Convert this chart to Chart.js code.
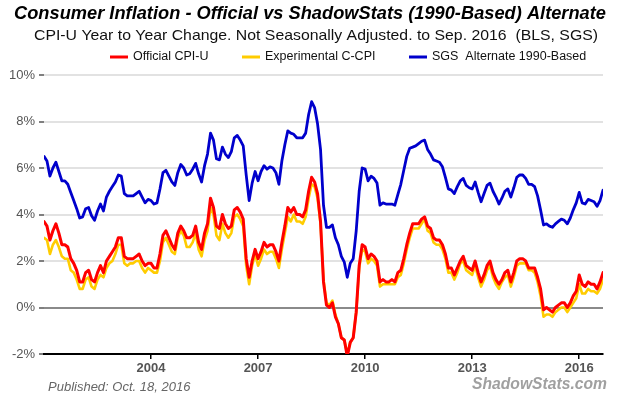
<!DOCTYPE html>
<html><head><meta charset="utf-8">
<script src="https://cdn.jsdelivr.net/npm/chart.js@4.4.0/dist/chart.umd.min.js"></script>
<style>html,body{margin:0;padding:0;background:#fff;}#wrap{width:620px;height:397px;position:relative;}</style>
</head><body><div id="wrap"><canvas id="c" width="620" height="397"></canvas></div>
<script>
// Monthly year-to-year change, Jan 2001 .. Sep 2016
const startYear = 2001;
const officialCPI = [
 3.7,3.5,2.9,3.3,3.6,3.2,2.7,2.7,2.6,2.1,1.9,1.6,
 1.1,1.1,1.5,1.6,1.2,1.1,1.5,1.8,1.5,2.0,2.2,2.4,
 2.6,3.0,3.0,2.2,2.1,2.1,2.1,2.2,2.3,2.0,1.8,1.9,
 1.9,1.7,1.7,2.3,3.1,3.3,3.0,2.7,2.5,3.2,3.5,3.3,
 3.0,3.0,3.1,3.5,2.8,2.5,3.2,3.6,4.7,4.3,3.5,3.4,
 4.0,3.6,3.4,3.5,4.2,4.3,4.1,3.8,2.1,1.3,2.0,2.5,
 2.1,2.4,2.8,2.6,2.7,2.7,2.4,2.0,2.8,3.5,4.3,4.1,
 4.3,4.0,4.0,3.9,4.2,5.0,5.6,5.4,4.9,3.7,1.1,0.1,
 0.0,0.2,-0.4,-0.7,-1.3,-1.4,-2.1,-1.5,-1.3,-0.2,1.8,2.7,
 2.6,2.1,2.3,2.2,2.0,1.1,1.2,1.1,1.1,1.2,1.1,1.5,
 1.6,2.1,2.7,3.2,3.6,3.6,3.6,3.8,3.9,3.5,3.4,3.0,
 2.9,2.9,2.7,2.3,1.7,1.7,1.4,1.7,2.0,2.2,1.8,1.7,
 1.6,2.0,1.5,1.1,1.4,1.8,2.0,1.5,1.2,1.0,1.2,1.5,
 1.6,1.1,1.5,2.0,2.1,2.1,2.0,1.7,1.7,1.7,1.3,0.8,
 -0.1,0.0,-0.1,-0.2,0.0,0.1,0.2,0.2,0.0,0.2,0.5,0.7,
 1.4,1.0,0.9,1.1,1.0,1.0,0.8,1.1,1.5
];
const chainedCPI = [
 3.0,2.9,2.3,2.7,2.9,2.6,2.2,2.1,2.1,1.6,1.5,1.2,
 0.8,0.8,1.2,1.3,0.9,0.8,1.2,1.4,1.3,1.7,1.9,2.0,
 2.3,2.7,2.7,1.9,1.8,1.9,1.9,2.0,2.0,1.7,1.5,1.7,
 1.6,1.5,1.5,2.0,2.8,3.0,2.7,2.4,2.3,3.0,3.3,3.1,
 2.6,2.6,2.8,3.2,2.5,2.2,2.9,3.3,4.3,4.0,3.1,2.9,
 3.6,3.2,3.0,3.2,3.9,4.0,3.8,3.5,1.8,1.0,1.8,2.3,
 1.8,2.1,2.5,2.3,2.4,2.4,2.1,1.7,2.5,3.2,3.9,3.7,
 4.0,3.7,3.7,3.6,3.9,4.7,5.3,5.2,4.7,3.6,1.2,0.2,
 0.1,0.3,-0.3,-0.7,-1.3,-1.4,-2.0,-1.5,-1.3,-0.2,1.7,2.5,
 2.4,1.9,2.1,2.0,1.8,0.9,1.0,1.0,1.0,1.0,1.0,1.3,
 1.4,1.9,2.5,3.0,3.4,3.4,3.4,3.6,3.8,3.3,3.2,2.8,
 2.7,2.7,2.5,2.1,1.5,1.5,1.2,1.5,1.9,2.0,1.6,1.5,
 1.4,1.8,1.3,0.9,1.2,1.6,1.8,1.3,1.0,0.8,1.1,1.3,
 1.4,0.9,1.3,1.8,1.9,1.9,1.9,1.6,1.6,1.5,1.1,0.5,
 -0.4,-0.3,-0.3,-0.4,-0.2,-0.1,0.0,0.0,-0.2,0.0,0.2,0.4,
 1.0,0.6,0.6,0.8,0.7,0.7,0.6,0.8,1.2
];
const sgsAlternate = [
 6.5,6.3,5.65,6.0,6.25,5.85,5.45,5.45,5.3,4.95,4.6,4.25,
 3.85,3.9,4.25,4.3,3.95,3.75,4.15,4.45,4.15,4.75,5.0,5.2,
 5.4,5.7,5.65,4.9,4.8,4.8,4.8,4.9,5.0,4.75,4.5,4.65,
 4.6,4.45,4.5,5.1,5.8,5.9,5.65,5.4,5.25,5.8,6.15,6.0,
 5.7,5.75,5.95,6.2,5.75,5.4,6.1,6.6,7.5,7.2,6.4,6.35,
 6.9,6.6,6.45,6.7,7.3,7.4,7.2,6.95,5.7,4.6,5.35,5.85,
 5.45,5.85,6.1,5.95,6.05,6.0,5.8,5.3,6.3,7.0,7.6,7.5,
 7.45,7.3,7.3,7.3,7.5,8.3,8.85,8.6,7.9,6.8,4.4,3.45,
 3.45,3.55,3.0,2.7,2.2,1.95,1.3,1.9,2.1,3.3,5.0,6.0,
 5.95,5.45,5.65,5.55,5.35,4.4,4.5,4.45,4.45,4.45,4.4,4.85,
 5.3,5.9,6.5,6.85,6.9,6.95,7.05,7.15,7.2,6.8,6.6,6.35,
 6.3,6.25,6.05,5.6,5.1,5.05,4.9,5.2,5.45,5.55,5.25,5.15,
 5.1,5.4,4.95,4.55,4.9,5.25,5.35,5.0,4.75,4.45,4.7,5.0,
 5.1,4.75,5.15,5.6,5.7,5.7,5.55,5.3,5.3,5.2,4.8,4.2,
 3.55,3.6,3.5,3.45,3.6,3.7,3.8,3.75,3.6,3.85,4.2,4.5,
 4.95,4.5,4.45,4.65,4.6,4.55,4.35,4.6,5.05
];
const tickYears = [2004, 2007, 2010, 2013, 2016];
const seriesNames = ['Official CPI-U', 'Experimental C-CPI', 'SGS  Alternate 1990-Based'];
const seriesColors = ['#ff0000', '#ffcc00', '#0000cc'];
const titleText = 'Consumer Inflation - Official vs ShadowStats (1990-Based) Alternate';
const subtitleText = 'CPI-U Year to Year Change. Not Seasonally Adjusted. to Sep. 2016  (BLS, SGS)';
const publishedText = 'Published: Oct. 18, 2016';
const brandText = 'ShadowStats.com';

const FONT = "'Liberation Sans', Arial, sans-serif";
const toPoints = arr => arr.map((v, i) => ({x: startYear + i / 12, y: v}));
const allSeries = [officialCPI, chainedCPI, sgsAlternate];
const widths = [3, 2.6, 2.8];

function fitText(ctx, text, x, y, font, color, align, targetW) {
  ctx.save();
  ctx.font = font; ctx.fillStyle = color; ctx.textBaseline = 'middle';
  const w = ctx.measureText(text).width;
  const s = targetW ? targetW / w : 1;
  ctx.translate(x, y); ctx.scale(s, 1);
  ctx.textAlign = align;
  ctx.fillText(text, 0, 0);
  ctx.restore();
}

const headerPlugin = {
  id: 'header',
  afterDraw(chart) {
    const ctx = chart.ctx;
    fitText(ctx, titleText, 310, 14, "italic bold 18px " + FONT, '#000', 'center', 592);
    fitText(ctx, subtitleText, 316, 36, "15px " + FONT, '#111', 'center', 564);
    const lx = [110, 242, 409];
    seriesNames.forEach((name, i) => {
      ctx.save();
      ctx.strokeStyle = seriesColors[i]; ctx.lineWidth = 3;
      ctx.beginPath(); ctx.moveTo(lx[i], 57); ctx.lineTo(lx[i] + 18, 57); ctx.stroke();
      ctx.restore();
      fitText(ctx, name, lx[i] + 23, 57, "12.5px " + FONT, '#111', 'left');
    });
    fitText(ctx, publishedText, 48, 387, "italic 13px " + FONT, '#666', 'left');
    fitText(ctx, brandText, 472, 384, "italic bold 17px " + FONT, '#a0a0a0', 'left', 135);
  }
};

new Chart(document.getElementById('c'), {
  type: 'line',
  data: {
    datasets: allSeries.map((arr, i) => ({
      label: seriesNames[i],
      data: toPoints(arr),
      borderColor: seriesColors[i],
      backgroundColor: seriesColors[i],
      borderWidth: widths[i],
      borderJoinStyle: 'round',
      borderCapStyle: 'round',
      pointRadius: 0,
      tension: 0,
      fill: false
    }))
  },
  options: {
    responsive: false,
    devicePixelRatio: 1,
    animation: false,
    layout: {padding: {top: 75, right: 17, bottom: 0, left: 0}},
    plugins: {legend: {display: false}, title: {display: false}, tooltip: {enabled: false}},
    scales: {
      x: {
        type: 'linear',
        min: startYear,
        max: startYear + (officialCPI.length - 1) / 12,
        afterBuildTicks: s => { s.ticks = tickYears.map(v => ({value: v})); },
        afterFit: s => { s.height = 43; },
        ticks: {
          callback: v => String(v), autoSkip: false, maxRotation: 0, padding: 2,
          color: '#555', font: {family: FONT, size: 13, weight: 'bold'}
        },
        grid: {drawOnChartArea: false, drawTicks: true, tickLength: 5, tickColor: '#000', lineWidth: 1.5},
        border: {display: true, color: '#000', width: 2}
      },
      y: {
        min: -2, max: 10,
        afterFit: s => { s.width = 44; },
        ticks: {
          stepSize: 2, padding: 4, color: '#555',
          font: {family: FONT, size: 13},
          callback: v => v + '%'
        },
        grid: {
          color: c => c.tick.value === -2 ? '#000' : (c.tick.value === 0 ? '#8a8a8a' : '#e2e2e2'),
          lineWidth: 2, tickLength: 5, tickColor: '#555', tickWidth: 1.5
        },
        border: {display: false}
      }
    }
  },
  plugins: [headerPlugin]
});
</script></body></html>
